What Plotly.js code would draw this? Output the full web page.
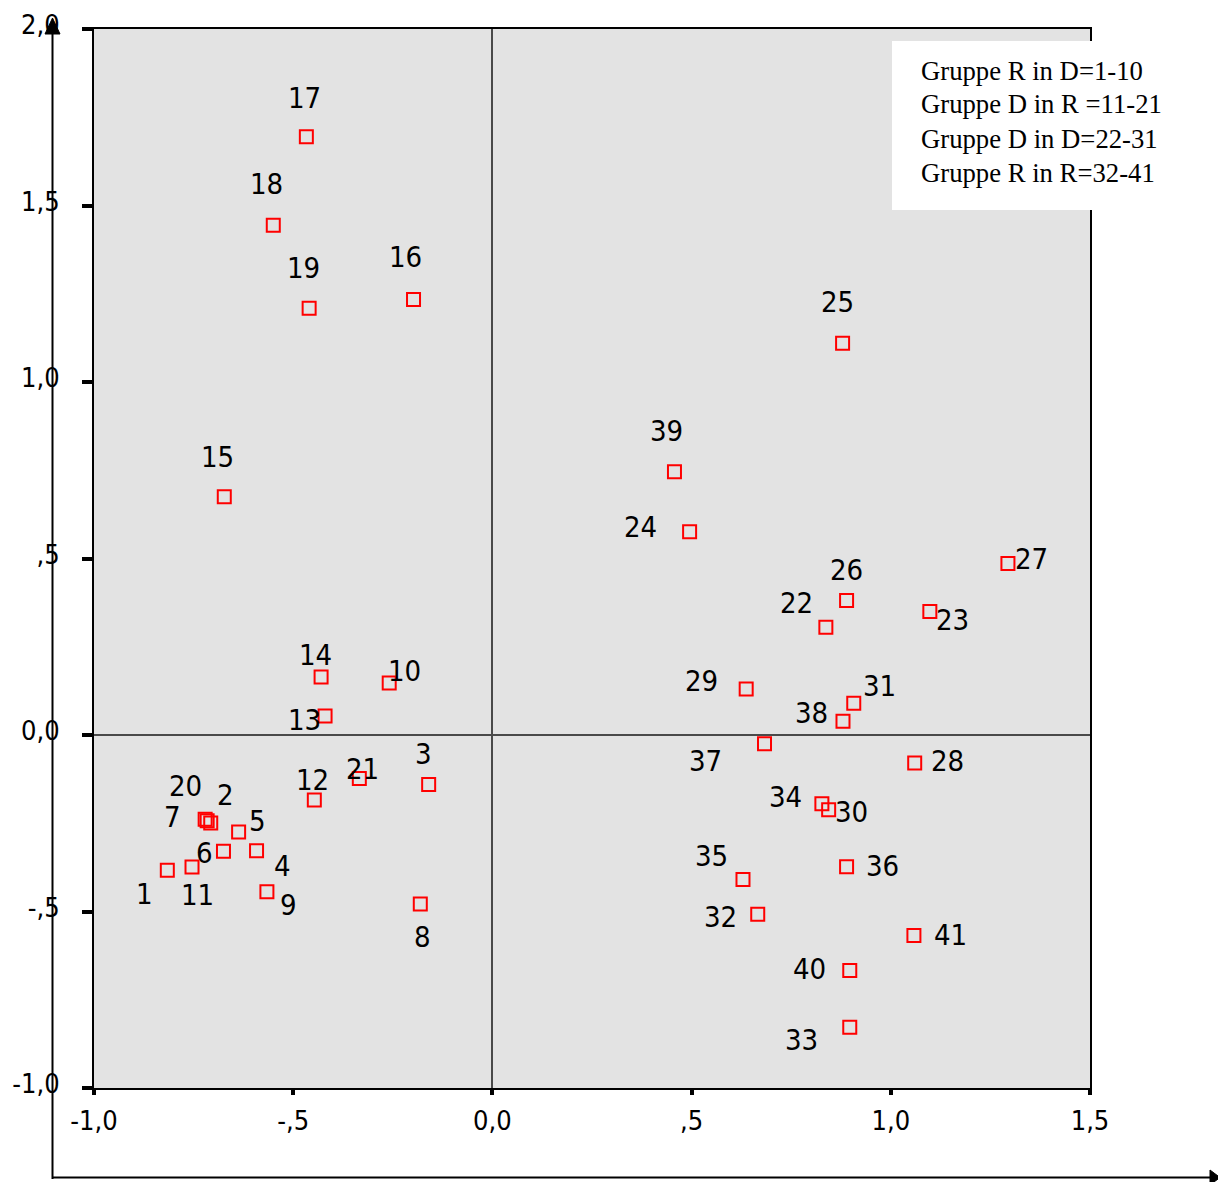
<!DOCTYPE html>
<html>
<head>
<meta charset="utf-8">
<script src="https://cdn.plot.ly/plotly-3.0.1.min.js"></script>
<style>html,body{margin:0;padding:0;background:#fff;}#chart{width:1218px;height:1182px;}</style>
</head>
<body>
<div id="chart"></div>
<script>
// ---- data ----
const pointIds = ["1","2","3","4","5","6","7","8","9","10","11","12","13","14","15","16","17","18","19","20","21",
  "22","23","24","25","26","27","28","29","30","31","32","33","34","35","36","37","38","39","40","41"];
const xValues = [-0.816,-0.707,-0.160,-0.592,-0.637,-0.675,-0.721,-0.181,-0.566,-0.259,
  -0.754,-0.447,-0.420,-0.430,-0.673,-0.198,-0.467,-0.550,-0.460,-0.716,-0.334,
  0.837,1.098,0.495,0.879,0.889,1.294,1.060,0.637,0.844,0.907,
  0.666,0.897,0.827,0.629,0.889,0.683,0.880,0.457,0.897,1.058];
const yValues = [-0.383,-0.249,-0.140,-0.328,-0.275,-0.329,-0.239,-0.479,-0.444,0.147,
  -0.374,-0.184,0.054,0.164,0.675,1.234,1.695,1.444,1.209,-0.243,-0.123,
  0.305,0.350,0.576,1.110,0.381,0.486,-0.079,0.130,-0.212,0.090,
  -0.508,-0.828,-0.195,-0.409,-0.373,-0.025,0.039,0.746,-0.667,-0.568];
const xTickVals = [-1.0,-0.5,0.0,0.5,1.0,1.5];
const xTickText = ["-1,0","-,5","0,0",",5","1,0","1,5"];
const yTickVals = [-1.0,-0.5,0.0,0.5,1.0,1.5,2.0];
const yTickText = ["-1,0","-,5","0,0",",5","1,0","1,5","2,0"];
const legendLines = ["Gruppe R in D=1-10","Gruppe D in R =11-21","Gruppe D in D=22-31","Gruppe R in R=32-41"];

// label offsets (pixels, dx right, dy down) – placement only
const labelOffsets = [[-23,24],[15,-28],[-5,-30],[26,15],[19,-11],[-19,2],[-33,-2],[2,33],[22,13],[15,-12],
  [5,28],[-2,-20],[-21,4],[-6,-22],[-7,-40],[-8,-42],[-2,-39],[-7,-41],[-6,-40],[-22,-35],[3,-9],
  [-29,-24],[23,9],[-49,-5],[-5,-41],[0,-31],[24,-4],[33,-2],[-45,-8],[23,2],[26,-17],
  [-37,3],[-48,13],[-36,-7],[-31,-23],[36,-1],[-59,17],[-31,-8],[-8,-41],[-40,-1],[37,-1]];

// ---- layout geometry ----
const W = 1218, H = 1182;
const M = {l:94, r:128, t:29, b:94};
const PW = W - M.l - M.r, PH = H - M.t - M.b;
const px = v => (v - M.l) / PW;
const py = v => (M.t + PH - v) / PH;

const numFont = {family:"Liberation Sans Narrow, DejaVu Sans Condensed, Liberation Sans, sans-serif", size:29, color:"#000"};

const annotations = pointIds.map((id,i) => ({
  x: xValues[i], y: yValues[i], xref:"x", yref:"y", text:id, showarrow:false,
  xanchor:"center", yanchor:"middle",
  xshift: labelOffsets[i][0], yshift: -labelOffsets[i][1],
  font: numFont
}));
const legendY = [71,104,139,173];
legendLines.forEach((t,i) => annotations.push({
  xref:"paper", yref:"paper", x: px(919), y: py(legendY[i]), xanchor:"left", yanchor:"middle",
  text:t, showarrow:false,
  font:{family:"Liberation Serif, Times New Roman, serif", size:26.7, color:"#000"}
}));

const shapes = [
  // legend box
  {type:"rect", xref:"paper", yref:"paper", x0:px(892), x1:px(1218), y0:py(210), y1:py(41),
   fillcolor:"#ffffff", line:{width:0}, layer:"above"},
  // outer y arrow line
  {type:"line", xref:"paper", yref:"paper", x0:px(52.5), x1:px(52.5), y0:py(1179), y1:py(30),
   line:{color:"#000", width:2}, layer:"above"},
  {type:"path", xref:"paper", yref:"paper",
   path:`M ${px(45)} ${py(34)} L ${px(60)} ${py(34)} L ${px(52.5)} ${py(18)} Z`,
   fillcolor:"#000", line:{color:"#000", width:1}, layer:"above"},
  // outer x arrow line
  {type:"line", xref:"paper", yref:"paper", x0:px(52), x1:px(1212), y0:py(1177.5), y1:py(1177.5),
   line:{color:"#000", width:2}, layer:"above"},
  {type:"path", xref:"paper", yref:"paper",
   path:`M ${px(1210)} ${py(1170)} L ${px(1210)} ${py(1185)} L ${px(1220)} ${py(1177.5)} Z`,
   fillcolor:"#000", line:{color:"#000", width:1}, layer:"above"}
];

const trace = {
  type:"scatter", mode:"markers", x:xValues, y:yValues, text:pointIds,
  marker:{symbol:"square-open", size:13, color:"#ff0000", line:{width:2, color:"#ff0000"}},
  hoverinfo:"text"
};

const tickFont = {family:"Liberation Sans Narrow, DejaVu Sans Condensed, Liberation Sans, sans-serif", size:27, color:"#000"};

const layout = {
  width:W, height:H, margin:M, showlegend:false,
  paper_bgcolor:"#ffffff", plot_bgcolor:"#e3e3e3",
  xaxis:{range:[-1.0,1.5], tickvals:xTickVals, ticktext:xTickText, showgrid:false,
    zeroline:true, zerolinecolor:"#4a4a4a", zerolinewidth:2,
    showline:true, mirror:true, linecolor:"#000", linewidth:2,
    ticks:"outside", ticklen:5, tickwidth:4, tickcolor:"#000", ticklabelstandoff:3,
    tickfont:tickFont, fixedrange:true},
  yaxis:{range:[-1.0,2.0], tickvals:yTickVals, ticktext:yTickText, showgrid:false,
    zeroline:true, zerolinecolor:"#4a4a4a", zerolinewidth:2,
    showline:true, mirror:true, linecolor:"#000", linewidth:2,
    ticks:"outside", ticklen:10, tickwidth:4, tickcolor:"#000", ticklabelstandoff:17,
    ticklabelshift:-4,
    tickfont:tickFont, fixedrange:true},
  annotations:annotations, shapes:shapes
};

Plotly.newPlot("chart", [trace], layout, {displayModeBar:false, staticPlot:true});
</script>
</body>
</html>
